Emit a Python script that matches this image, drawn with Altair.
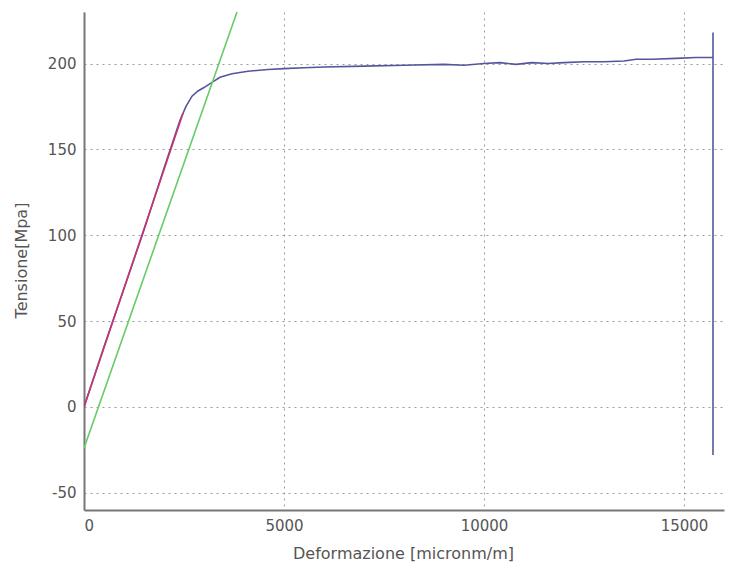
import altair as alt
import pandas as pd

# Measured curve (blue)
blue_x = [0, 500, 1000, 1500, 2000, 2200, 2400, 2550, 2700, 2850, 3000, 3200, 3400, 3700,
          4100, 4600, 5000, 5500, 6000, 7000, 8000, 9000, 9500, 10000, 10400, 10800, 11200,
          11600, 12000, 12500, 13000, 13500, 13800, 14200, 14800, 15300, 15725, 15725, 15725]
blue_y = [0, 35, 69, 103, 139, 153, 167, 175, 181, 184, 186, 189, 192, 194,
          195.5, 196.5, 197, 197.5, 198, 198.5, 199, 199.5, 199, 200, 200.5, 199.5, 200.5,
          200, 200.5, 201, 201, 201.5, 202.5, 202.5, 203, 203.5, 203.5, 218, -28]

# Elastic fit (red)
red_x = [0, 2475]
red_y = [0, 171]

# Offset line (green)
green_x = [0, 3825]
green_y = [-24, 230]

x_ticks = [0, 5000, 10000, 15000]
y_ticks = [-50, 0, 50, 100, 150, 200]

rows = []
for i, (x, y) in enumerate(zip(blue_x, blue_y)):
    rows.append({"x": x, "y": y, "s": "blue", "o": i})
for i, (x, y) in enumerate(zip(red_x, red_y)):
    rows.append({"x": x, "y": y, "s": "red", "o": i})
for i, (x, y) in enumerate(zip(green_x, green_y)):
    rows.append({"x": x, "y": y, "s": "green", "o": i})
df = pd.DataFrame(rows)

xs = alt.Scale(domain=[0, 16000], nice=False, zero=False)
ys = alt.Scale(domain=[-60, 230], nice=False, zero=False)

label_expr = "datum.value < 0 ? '-' + abs(datum.value) : '' + datum.value"

axis_common = dict(
    grid=True, gridColor="#9a9a9a", gridDash=[2, 4], gridWidth=1,
    domainColor="#777777", domainWidth=2, ticks=False,
    labelFont="DejaVu Sans", labelFontSize=15, labelColor="#555555",
    titleFont="DejaVu Sans", titleFontSize=16, titleColor="#555555",
    titleFontWeight="normal", labelExpr=label_expr, titleBaseline="middle",
    titleAlign="center",
)

chart = alt.Chart(df).mark_line(clip=True, strokeWidth=1.6).encode(
    x=alt.X("x:Q", scale=xs,
            axis=alt.Axis(title="Deformazione [micronm/m]", values=x_ticks,
                          labelPadding=8, titleX=319, titleY=43, **axis_common)),
    y=alt.Y("y:Q", scale=ys,
            axis=alt.Axis(title="Tensione[Mpa]", values=y_ticks,
                          labelPadding=8, titleX=-63, titleY=248, **axis_common)),
    color=alt.Color("s:N", scale=alt.Scale(domain=["blue", "red", "green"],
                                           range=["#55559e", "#c8356e", "#66cc66"]),
                    legend=None),
    order="o:Q",
    detail="s:N",
).properties(
    width=640, height=498,
    background="white",
    autosize=alt.AutoSizeParams(type="none"),
    padding={"left": 84, "top": 12, "right": 12, "bottom": 55},
).configure_view(stroke="transparent", strokeWidth=0)

chart.save("out.html", embed_options={"renderer": "svg", "actions": False})
